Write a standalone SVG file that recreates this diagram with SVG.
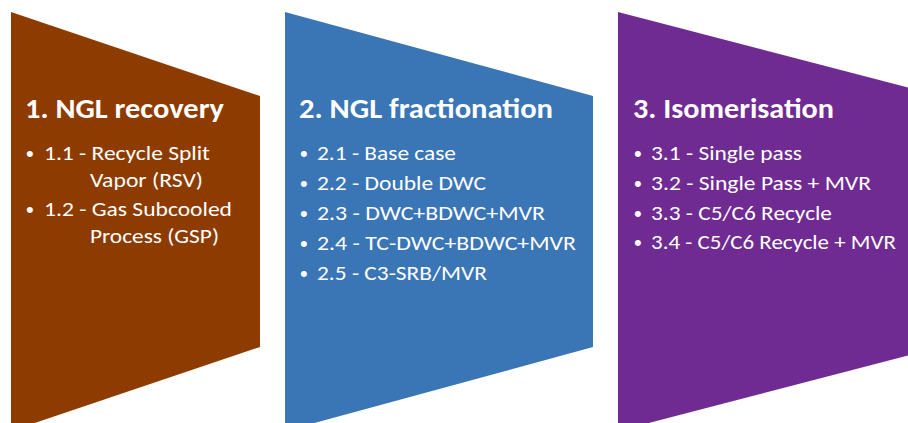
<svg xmlns="http://www.w3.org/2000/svg" width="908" height="423" viewBox="0 0 908 423">
  <style>
    .head { font-family: Calibri, Carlito, Lato, "Liberation Sans", sans-serif; font-weight: bold; font-size: 28px; fill: #ffffff; }
    .item { font-family: Calibri, Carlito, Lato, "Liberation Sans", sans-serif; font-size: 21px; fill: #ffffff; }
    .dot { font-family: "Liberation Sans", Arial, sans-serif; font-size: 22px; fill: #ffffff; }
  </style>
  <rect width="908" height="423" fill="#ffffff"/>

  <g id="stage-1">
    <polygon points="11,12 260,96 260,347 11,431" fill="#8E3B00"/>
    <text class="head" x="25" y="118" textLength="199" lengthAdjust="spacingAndGlyphs">1. NGL recovery</text>
    <text class="dot" x="26" y="161">•</text>
    <text class="item" x="44" y="160" textLength="166" lengthAdjust="spacingAndGlyphs">1.1 - Recycle Split</text>
    <text class="item" x="90" y="187" textLength="113" lengthAdjust="spacingAndGlyphs">Vapor (RSV)</text>
    <text class="dot" x="26" y="217">•</text>
    <text class="item" x="44" y="216" textLength="188" lengthAdjust="spacingAndGlyphs">1.2 - Gas Subcooled</text>
    <text class="item" x="90" y="243" textLength="129" lengthAdjust="spacingAndGlyphs">Process (GSP)</text>
  </g>

  <g id="stage-2">
    <polygon points="285,12 593,96 593,347 285,431" fill="#3A75B5"/>
    <text class="head" x="299" y="118" textLength="254" lengthAdjust="spacingAndGlyphs">2. NGL fractionation</text>
    <text class="dot" x="300" y="161">•</text>
    <text class="item" x="317" y="160" textLength="139" lengthAdjust="spacingAndGlyphs">2.1 - Base case</text>
    <text class="dot" x="300" y="191">•</text>
    <text class="item" x="317" y="190" textLength="169" lengthAdjust="spacingAndGlyphs">2.2 - Double DWC</text>
    <text class="dot" x="300" y="221">•</text>
    <text class="item" x="317" y="220" textLength="228" lengthAdjust="spacingAndGlyphs">2.3 - DWC+BDWC+MVR</text>
    <text class="dot" x="300" y="251">•</text>
    <text class="item" x="317" y="250" textLength="259" lengthAdjust="spacingAndGlyphs">2.4 - TC-DWC+BDWC+MVR</text>
    <text class="dot" x="300" y="281">•</text>
    <text class="item" x="317" y="280" textLength="170" lengthAdjust="spacingAndGlyphs">2.5 - C3-SRB/MVR</text>
  </g>

  <g id="stage-3">
    <polygon points="618,12 941,96 941,347 618,431" fill="#6F2B91"/>
    <text class="head" x="633" y="118" textLength="201" lengthAdjust="spacingAndGlyphs">3. Isomerisation</text>
    <text class="dot" x="634" y="161">•</text>
    <text class="item" x="651" y="160" textLength="151" lengthAdjust="spacingAndGlyphs">3.1 - Single pass</text>
    <text class="dot" x="634" y="191">•</text>
    <text class="item" x="651" y="190" textLength="220" lengthAdjust="spacingAndGlyphs">3.2 - Single Pass + MVR</text>
    <text class="dot" x="634" y="221">•</text>
    <text class="item" x="651" y="220" textLength="181" lengthAdjust="spacingAndGlyphs">3.3 - C5/C6 Recycle</text>
    <text class="dot" x="634" y="250">•</text>
    <text class="item" x="651" y="249" textLength="245" lengthAdjust="spacingAndGlyphs">3.4 - C5/C6 Recycle + MVR</text>
  </g>
</svg>
